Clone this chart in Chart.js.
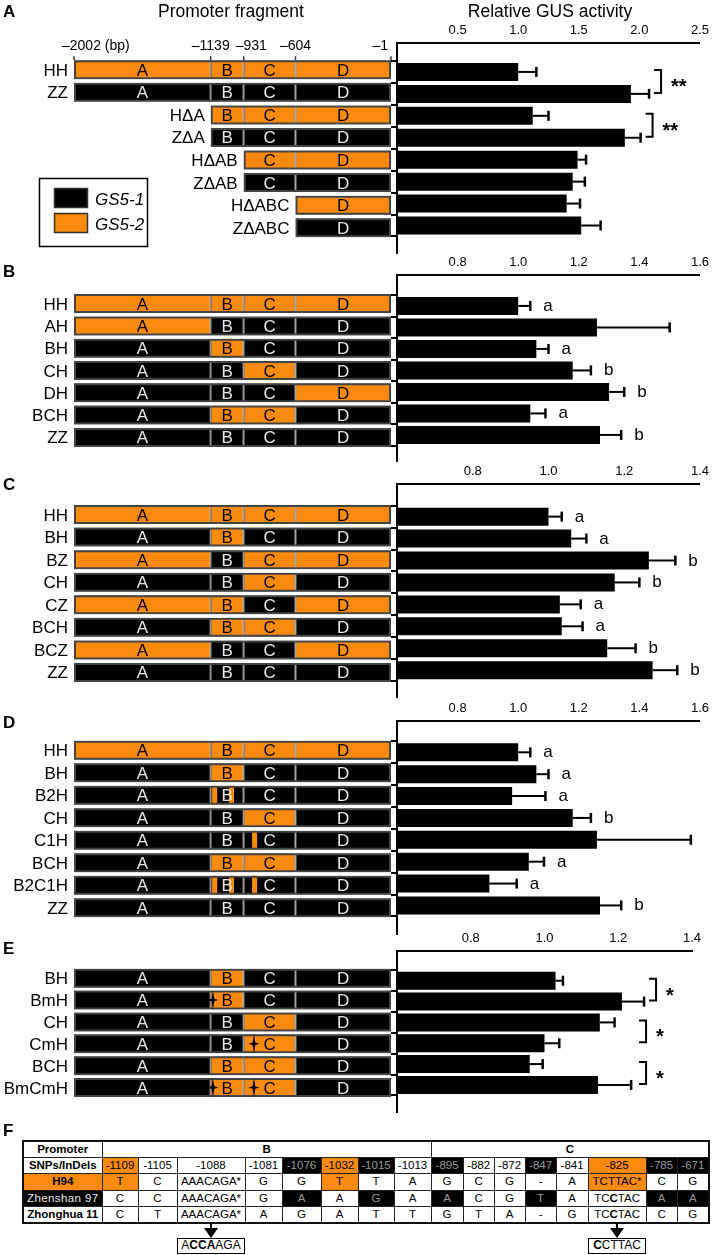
<!DOCTYPE html>
<html>
<head>
<meta charset="utf-8">
<script src="https://cdn.jsdelivr.net/npm/chart.js"></script>
<style>
  body { margin: 0; background: #fff; }
  #page { position: relative; width: 714px; height: 1255px; overflow: hidden; background: #fff;
          font-family: "Liberation Sans", Arial, Helvetica, sans-serif; color: #000; }
  #snp { position: absolute; left: 22px; top: 1140px; width: 686px; border-collapse: collapse;
         table-layout: fixed; font-size: 11.5px; border: 2px solid #111; }
  #snp td { border: 1.5px solid #222; padding: 0; text-align: center; white-space: nowrap;
            overflow: hidden; line-height: 13px; }
  #snp tr { height: 16.4px; }
  #snp td.o { background: #fa8a0c; color: #000; }
  #snp td.k { background: #000; color: #9a9a9a; }
  #snp td.b { font-weight: bold; }
  .mbox { position: absolute; box-sizing: border-box; border: 1.5px solid #000; font-size: 12px;
          text-align: center; line-height: 13px; background: #fff; }
</style>
</head>
<body>
<div id="page"></div>
<script>
const FONT = '"Liberation Sans", Arial, Helvetica, sans-serif';
const ORANGE = '#fa8a0c';

// promoter fragment boundaries (bp) and segment names
const boundaries = [-2002, -1139, -931, -604, -1];
const segmentNames = ['A', 'B', 'C', 'D'];

// H = GS5-2 (orange) fragment, Z = GS5-1 (black) fragment, - = deleted
// panel A
const rowsA = ['HH', 'ZZ', 'HΔA', 'ZΔA', 'HΔAB', 'ZΔAB', 'HΔABC', 'ZΔABC'];
const originA = ['HHHH', 'ZZZZ', '-HHH', '-ZZZ', '--HH', '--ZZ', '---H', '---Z'];
const gusA = [1.00, 1.93, 1.12, 1.88, 1.49, 1.45, 1.40, 1.52];
const errA = [0.15, 0.15, 0.13, 0.13, 0.07, 0.10, 0.11, 0.16];
const sigA = [[0, 1, '**'], [2, 3, '**']];

// panel B
const rowsB = ['HH', 'AH', 'BH', 'CH', 'DH', 'BCH', 'ZZ'];
const originB = ['HHHH', 'HZZZ', 'ZHZZ', 'ZZHZ', 'ZZZH', 'ZHHZ', 'ZZZZ'];
const gusB = [1.00, 1.26, 1.06, 1.18, 1.30, 1.04, 1.27];
const errB = [0.04, 0.24, 0.04, 0.06, 0.05, 0.05, 0.07];
const lettersB = ['a', '', 'a', 'b', 'b', 'a', 'b'];

// panel C
const rowsC = ['HH', 'BH', 'BZ', 'CH', 'CZ', 'BCH', 'BCZ', 'ZZ'];
const originC = ['HHHH', 'ZHZZ', 'HZHH', 'ZZHZ', 'HHZH', 'ZHHZ', 'HZZH', 'ZZZZ'];
const gusC = [1.00, 1.06, 1.265, 1.175, 1.03, 1.035, 1.155, 1.275];
const errC = [0.035, 0.04, 0.07, 0.065, 0.055, 0.055, 0.075, 0.065];
const lettersC = ['a', 'a', 'b', 'b', 'a', 'a', 'b', 'b'];

// panel D
const rowsD = ['HH', 'BH', 'B2H', 'CH', 'C1H', 'BCH', 'B2C1H', 'ZZ'];
const originD = ['HHHH', 'ZHZZ', 'ZZZZ', 'ZZHZ', 'ZZZZ', 'ZHHZ', 'ZZZZ', 'ZZZZ'];
const stripesD = [[], [], [[-1130, -1098], [-1024, -992]], [], [[-878, -846]], [],
                  [[-1130, -1098], [-1024, -992], [-878, -846]], []];
const gusD = [1.00, 1.06, 0.98, 1.18, 1.26, 1.035, 0.905, 1.27];
const errD = [0.04, 0.04, 0.11, 0.06, 0.31, 0.05, 0.09, 0.07];
const lettersD = ['a', 'a', 'a', 'b', '', 'a', 'a', 'b'];

// panel E
const rowsE = ['BH', 'BmH', 'CH', 'CmH', 'BCH', 'BmCmH'];
const originE = ['ZHZZ', 'ZHZZ', 'ZZHZ', 'ZZHZ', 'ZHHZ', 'ZHHZ'];
const mutationsE = [[], [-1125], [], [-866], [], [-1125, -866]];
const gusE = [1.03, 1.21, 1.15, 1.00, 0.96, 1.145];
const errE = [0.02, 0.06, 0.04, 0.04, 0.035, 0.09];
const sigE = [[0, 1, '*'], [2, 3, '*'], [4, 5, '*']];

// panel F
const snpPos = ['-1109', '-1105', '-1088', '-1081', '-1076', '-1032', '-1015', '-1013',
                '-895', '-882', '-872', '-847', '-841', '-825', '-785', '-671'];
const snpRegion = ['B', 'B', 'B', 'B', 'B', 'B', 'B', 'B', 'C', 'C', 'C', 'C', 'C', 'C', 'C', 'C'];
const allelesH94 = ['T', 'C', 'AAACAGA*', 'G', 'G', 'T', 'T', 'A', 'G', 'C', 'G', '-', 'A', 'TCTTAC*', 'C', 'G'];
const allelesZS97 = ['C', 'C', 'AAACAGA*', 'G', 'A', 'A', 'G', 'A', 'A', 'C', 'G', 'T', 'A', 'TCCTAC', 'A', 'A'];
const allelesZH11 = ['C', 'T', 'AAACAGA*', 'A', 'G', 'A', 'T', 'T', 'G', 'T', 'A', '-', 'G', 'TCCTAC', 'C', 'G'];
const mutatedSites = ['-1088', '-825'];
const mutatedSeqs = ['ACCAAGA', 'CCTTAC'];

const page = document.getElementById('page');

function textAt(str, x, baseline, size, opts = {}) {
  const d = document.createElement('div');
  d.textContent = str;
  d.style.cssText = 'position:absolute;white-space:nowrap;line-height:1;font-size:' + size + 'px;' +
    'font-weight:' + (opts.weight || 'normal') + ';top:' + (baseline - 0.8465 * size) + 'px;left:' + x + 'px;';
  if (opts.align === 'center') d.style.transform = 'translateX(-50%)';
  page.appendChild(d);
}

function addCanvas(left, top, w, h) {
  const c = document.createElement('canvas');
  c.width = w; c.height = h;
  c.style.cssText = 'position:absolute;left:' + left + 'px;top:' + top + 'px;width:' + w + 'px;height:' + h + 'px;';
  page.appendChild(c);
  return c;
}

function rowRange(L, n) {
  const step = (L.lastRow - L.firstRow) / (n - 1);
  const min = -(L.firstRow - L.axisY) / step;
  return { min: min, max: min + (L.bottom - L.axisY) / step };
}

const startOf = o => boundaries[o.search(/[HZ]/)];

function star(ctx, x, y) {
  ctx.beginPath();
  ctx.moveTo(x, y - 10);
  ctx.lineTo(x + 1.3, y - 1.3);
  ctx.lineTo(x + 5.5, y);
  ctx.lineTo(x + 1.3, y + 1.3);
  ctx.lineTo(x, y + 10);
  ctx.lineTo(x - 1.3, y + 1.3);
  ctx.lineTo(x - 5.5, y);
  ctx.lineTo(x - 1.3, y - 1.3);
  ctx.closePath();
  ctx.fill();
}

function diagramPlugin(p) {
  return {
    id: 'diagramText',
    afterDatasetsDraw(chart) {
      const ctx = chart.ctx, xs = chart.scales.x, ys = chart.scales.y;
      ctx.save();
      ctx.textBaseline = 'alphabetic';
      ctx.font = '17px ' + FONT;
      ctx.textAlign = 'center';
      segmentNames.forEach((name, s) => {
        const ds = chart.data.datasets[2 + s];
        chart.getDatasetMeta(2 + s).data.forEach((el, k) => {
          ctx.fillStyle = ds.backgroundColor[k] === ORANGE ? '#000' : '#e8e8e8';
          ctx.fillText(name, (el.x + el.base) / 2, el.y + 6);
        });
      });
      ctx.fillStyle = '#000';
      (p.mutations || []).forEach((list, i) => list.forEach(bp => {
        star(ctx, xs.getPixelForValue(bp), ys.getPixelForValue(i));
      }));
      ctx.textAlign = 'right';
      p.rows.forEach((r, i) => {
        ctx.fillText(r, xs.getPixelForValue(startOf(p.origin[i])) - 6, ys.getPixelForValue(i) + 6);
      });
      if (p.showScale) {
        const top = ys.getPixelForValue(0) - 9.5;
        ctx.font = '14px ' + FONT;
        ctx.strokeStyle = '#333';
        ctx.lineWidth = 1.5;
        let prevRight = -Infinity;
        boundaries.forEach((b, i) => {
          const x = xs.getPixelForValue(b);
          ctx.beginPath(); ctx.moveTo(x, top - 4); ctx.lineTo(x, top); ctx.stroke();
          const label = '–' + Math.abs(b) + (i === 0 ? ' (bp)' : '');
          const w = ctx.measureText(label).width;
          let left;
          if (i === 0) left = x - 12;
          else if (i === boundaries.length - 1) left = x - 3 - w;
          else left = Math.max(x - w / 2, prevRight + 6);
          ctx.textAlign = 'left';
          ctx.fillText(label, left, top - 10);
          prevRight = left + w;
        });
      }
      if (p.legend) {
        ctx.lineWidth = 1.5;
        ctx.strokeStyle = '#000';
        ctx.strokeRect(39.5, 178.5, 108, 68);
        [['#000', 'GS5-1'], [ORANGE, 'GS5-2']].forEach(([c, t], k) => {
          const y = 188 + k * 25;
          ctx.fillStyle = c;
          ctx.fillRect(54, y, 34, 20);
          ctx.strokeStyle = '#333';
          ctx.strokeRect(54.5, y + 0.5, 33, 19);
          ctx.fillStyle = '#000';
          ctx.font = 'italic 17px ' + FONT;
          ctx.textAlign = 'left';
          ctx.fillText(t, 95, y + 16.5);
        });
      }
      ctx.restore();
    }
  };
}

function drawDiagram(p) {
  const L = p.layout, n = p.rows.length, yr = rowRange(L, n);
  const canvas = addCanvas(0, L.top, 393, L.bottom - L.top);
  const datasets = [];
  datasets.push({
    data: p.origin.map((o, i) => ({ x: [startOf(o), boundaries[4]], y: i })),
    backgroundColor: 'rgba(0,0,0,0)', borderColor: '#444', borderWidth: 2
  });
  const stripeData = [];
  (p.stripes || []).forEach((list, i) => list.forEach(r => stripeData.push({ x: r, y: i })));
  datasets.push({ data: stripeData, backgroundColor: ORANGE, borderWidth: 0 });
  segmentNames.forEach((name, s) => {
    const data = [], colors = [];
    p.origin.forEach((o, i) => {
      if (o[s] !== '-') {
        data.push({ x: [boundaries[s], boundaries[s + 1]], y: i });
        colors.push(o[s] === 'H' ? ORANGE : '#000');
      }
    });
    datasets.push({ data: data, backgroundColor: colors, borderColor: '#3a3a3a', borderWidth: 1 });
  });
  datasets.forEach(d => { d.grouped = false; d.barThickness = 19; d.borderSkipped = false; d.inflateAmount = 0; });
  new Chart(canvas, {
    type: 'bar',
    data: { datasets: datasets },
    options: {
      indexAxis: 'y', responsive: false, animation: false, devicePixelRatio: 1,
      layout: { padding: { left: 74, right: 2, top: L.axisY - L.top, bottom: 0 } },
      scales: {
        x: { type: 'linear', min: boundaries[0], max: boundaries[4], display: false },
        y: { type: 'linear', min: yr.min, max: yr.max, reverse: true, display: false }
      },
      plugins: { legend: { display: false }, tooltip: { enabled: false } }
    },
    plugins: [diagramPlugin(p)]
  });
}

function barPlugin(p) {
  return {
    id: 'errorBars',
    afterDatasetsDraw(chart) {
      const ctx = chart.ctx, xs = chart.scales.x, ys = chart.scales.y;
      const ends = p.gus.map((v, i) => xs.getPixelForValue(v + p.err[i]));
      const panelMax = Math.max(...ends);
      ctx.save();
      ctx.strokeStyle = '#000';
      ctx.fillStyle = '#000';
      chart.getDatasetMeta(0).data.forEach((el, i) => {
        ctx.lineWidth = 2;
        ctx.beginPath(); ctx.moveTo(el.x, el.y); ctx.lineTo(ends[i], el.y); ctx.stroke();
        ctx.lineWidth = 2.5;
        ctx.beginPath(); ctx.moveTo(ends[i], el.y - 5); ctx.lineTo(ends[i], el.y + 5); ctx.stroke();
        if (p.letters && p.letters[i]) {
          ctx.font = '17px ' + FONT;
          ctx.textAlign = 'left';
          ctx.fillText(p.letters[i], ends[i] + 13, el.y + 5);
        }
      });
      (p.sig || []).forEach(([a, b, label]) => {
        const y1 = ys.getPixelForValue(a) - 2, y2 = ys.getPixelForValue(b) - 1;
        const x = Math.max(Math.max(ends[a], ends[b]) + 12, panelMax + 2);
        ctx.lineWidth = 2;
        ctx.beginPath();
        ctx.moveTo(x - 7, y1); ctx.lineTo(x, y1); ctx.lineTo(x, y2); ctx.lineTo(x - 7, y2);
        ctx.stroke();
        ctx.font = 'bold 20px ' + FONT;
        ctx.textAlign = 'left';
        ctx.fillText(label, x + 10, (y1 + y2) / 2 + 12);
      });
      ctx.restore();
    }
  };
}

function drawBars(p) {
  const L = p.layout, n = p.rows.length, yr = rowRange(L, n);
  const left = 387;
  const canvas = addCanvas(left, L.top, 714 - left, L.bottom - L.top);
  new Chart(canvas, {
    type: 'bar',
    data: {
      datasets: [{
        data: p.gus.map((v, i) => ({ x: v, y: i })),
        backgroundColor: '#000', barThickness: 18, base: p.xMin, borderWidth: 0, inflateAmount: 0
      }]
    },
    options: {
      indexAxis: 'y', responsive: false, animation: false, devicePixelRatio: 1,
      layout: { padding: { left: 0, right: 714 - L.xRight, top: 0, bottom: 0 } },
      scales: {
        x: {
          type: 'linear', position: 'top', min: p.xMin, max: p.xMax,
          afterFit: s => { s.height = L.axisY - L.top; },
          grid: { display: false, drawTicks: false },
          border: { display: true, width: 2, color: '#000' },
          ticks: {
            stepSize: p.step, padding: 5, color: '#000', font: { family: FONT, size: 13 },
            maxRotation: 0, autoSkip: false,
            callback: (v, i) => i === 0 ? '' : Number(v).toFixed(1)
          }
        },
        y: {
          type: 'linear', min: yr.min, max: yr.max, reverse: true,
          afterBuildTicks: s => { s.ticks = p.gus.map((v, i) => ({ value: i })); },
          afterFit: s => { s.width = 10; },
          ticks: { display: false },
          grid: { display: true, drawOnChartArea: false, drawTicks: true, tickLength: 6, lineWidth: 2, color: '#000' },
          border: { display: true, width: 2, color: '#000' }
        }
      },
      plugins: { legend: { display: false }, tooltip: { enabled: false } }
    },
    plugins: [barPlugin(p)]
  });
}

const panels = [
  { rows: rowsA, origin: originA, gus: gusA, err: errA, sig: sigA, xMin: 0, xMax: 2.5, step: 0.5,
    showScale: true, legend: true,
    layout: { top: 0, axisY: 43, firstRow: 61, lastRow: 236.5, bottom: 254, xRight: 702 } },
  { rows: rowsB, origin: originB, gus: gusB, err: errB, letters: lettersB, xMin: 0.6, xMax: 1.6, step: 0.2,
    layout: { top: 250, axisY: 275, firstRow: 295.5, lastRow: 446, bottom: 462, xRight: 703 } },
  { rows: rowsC, origin: originC, gus: gusC, err: errC, letters: lettersC, xMin: 0.6, xMax: 1.4, step: 0.2,
    layout: { top: 458, axisY: 484, firstRow: 506, lastRow: 681.5, bottom: 698, xRight: 702 } },
  { rows: rowsD, origin: originD, stripes: stripesD, gus: gusD, err: errD, letters: lettersD,
    xMin: 0.6, xMax: 1.6, step: 0.2,
    layout: { top: 700, axisY: 721, firstRow: 741.5, lastRow: 916.5, bottom: 935, xRight: 703 } },
  { rows: rowsE, origin: originE, mutations: mutationsE, gus: gusE, err: errE, sig: sigE,
    xMin: 0.6, xMax: 1.4, step: 0.2,
    layout: { top: 925, axisY: 951, firstRow: 970.5, lastRow: 1095.5, bottom: 1113, xRight: 692 } }
];

panels.forEach(p => { drawDiagram(p); drawBars(p); });

// titles and panel letters
textAt('Promoter fragment', 231, 18, 17.5, { align: 'center' });
textAt('Relative GUS activity', 550, 18, 17.5, { align: 'center' });
[['A', 17.5], ['B', 277], ['C', 490], ['D', 728], ['E', 954], ['F', 1136]].forEach(([t, y]) => {
  textAt(t, 3, y, 17, { weight: 'bold' });
});

// panel F table
const colWidths = [79, 36, 39, 68, 37, 39, 37, 36, 37, 32, 31, 31, 31, 32, 58, 31, 32];

function uniqueOf(j) {
  const h = allelesH94[j], z = allelesZS97[j], x = allelesZH11[j];
  if (h !== z && h !== x && z === x) return 'H';
  if (z !== h && z !== x && h === x) return 'Z';
  return '';
}

function diffHtml(seq, ref) {
  ref = ref.replace('*', '');
  if (seq.length < 2) return seq;
  return seq.split('').map((c, k) => (c !== '*' && c !== ref[k]) ? '<b>' + c + '</b>' : c).join('');
}

function addCell(tr, html, cls) {
  const td = tr.insertCell();
  td.innerHTML = html;
  if (cls) td.className = cls;
  return td;
}

const table = document.createElement('table');
table.id = 'snp';
const cg = document.createElement('colgroup');
colWidths.forEach(w => { const c = document.createElement('col'); c.style.width = w + 'px'; cg.appendChild(c); });
table.appendChild(cg);
const tbody = document.createElement('tbody');
table.appendChild(tbody);

let tr = tbody.insertRow();
addCell(tr, 'Promoter', 'b');
[...new Set(snpRegion)].forEach(r => {
  const td = addCell(tr, r, 'b');
  td.colSpan = snpRegion.filter(x => x === r).length;
});

tr = tbody.insertRow();
addCell(tr, 'SNPs/InDels', 'b');
snpPos.forEach((s, j) => {
  const u = uniqueOf(j);
  addCell(tr, s, u === 'H' ? 'o' : u === 'Z' ? 'k' : '');
});

[['H94', allelesH94, 'H', 'o b'], ['Zhenshan 97', allelesZS97, 'Z', 'k'], ['Zhonghua 11', allelesZH11, 'X', 'b']]
  .forEach(([name, alleles, key, cls]) => {
    tr = tbody.insertRow();
    const td = addCell(tr, name, cls);
    if (key === 'Z') { td.style.color = '#e6e6e6'; td.style.letterSpacing = '0.4px'; }
    alleles.forEach((a, j) => {
      const u = uniqueOf(j);
      const html = key === 'H' ? a : diffHtml(a, allelesH94[j]);
      addCell(tr, html, u === key ? (key === 'H' ? 'o' : 'k') : '');
    });
  });
page.appendChild(table);

// arrows to mutated promoter sequences
const pageRect = page.getBoundingClientRect();
mutatedSites.forEach((site, m) => {
  const cell = table.rows[4].cells[snpPos.indexOf(site) + 1];
  const r = cell.getBoundingClientRect();
  const cx = r.left - pageRect.left + r.width / 2;
  const by = r.bottom - pageRect.top;
  const shaft = document.createElement('div');
  shaft.style.cssText = 'position:absolute;background:#000;width:2px;height:7px;left:' + (cx - 1) + 'px;top:' + by + 'px;';
  page.appendChild(shaft);
  const head = document.createElement('div');
  head.style.cssText = 'position:absolute;width:0;height:0;border-left:7px solid transparent;border-right:7px solid transparent;' +
    'border-top:10px solid #000;left:' + (cx - 7) + 'px;top:' + (by + 5) + 'px;';
  page.appendChild(head);
  const box = document.createElement('div');
  box.className = 'mbox';
  box.innerHTML = diffHtml(mutatedSeqs[m], allelesH94[snpPos.indexOf(site)]);
  box.style.left = (r.left - pageRect.left) + 'px';
  box.style.top = (by + 15) + 'px';
  box.style.width = r.width + 'px';
  box.style.height = '16px';
  page.appendChild(box);
});
</script>
</body>
</html>
